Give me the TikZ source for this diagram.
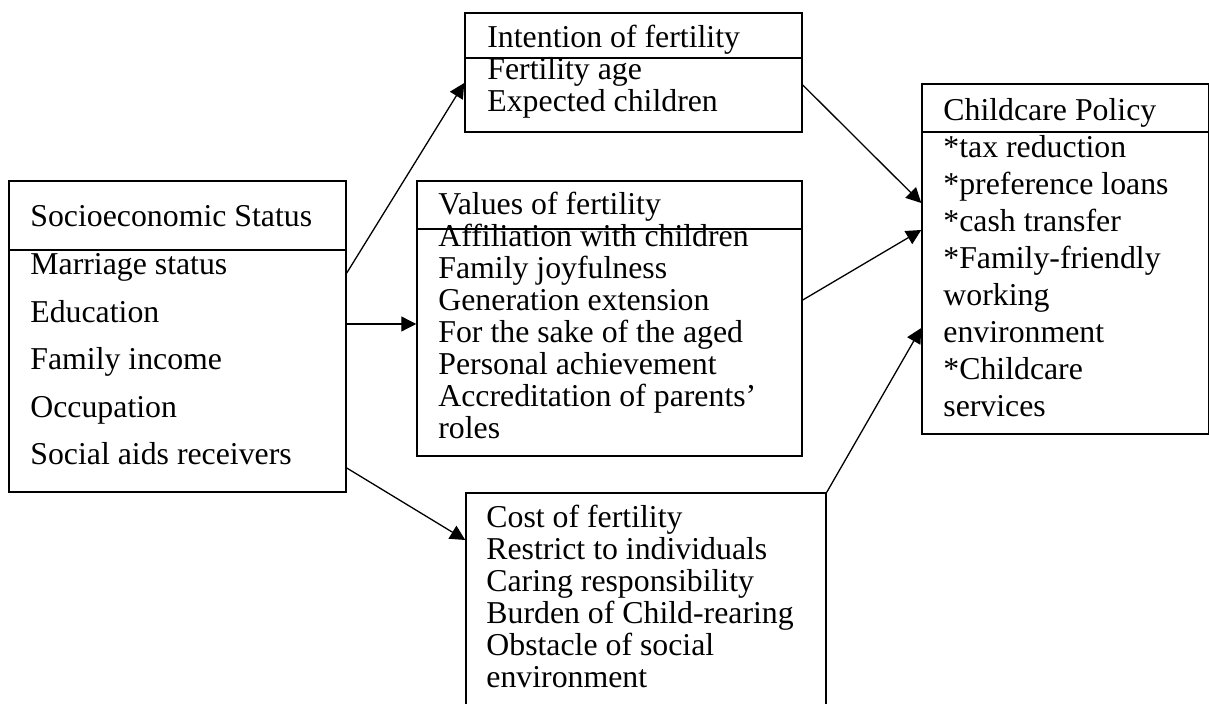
\documentclass[tikz,border=0pt]{standalone}
\usepackage{fontspec}
\setmainfont{Liberation Serif}
\usetikzlibrary{arrows.meta,fit}

\tikzset{
  box/.style={draw, line width=0.75pt, inner sep=0pt},
  rule/.style={line width=0.6pt},
  item/.style={font=\fontsize{15.9}{16}\selectfont, inner sep=0pt, anchor=base west},
  link/.style={line width=0.65pt, -{Triangle[length=7.5pt,width=7.5pt]}},
}

\begin{document}
\begin{tikzpicture}[x=0.5pt,y=-0.5pt]
	\useasboundingbox (0,0) rectangle (1209,704);
	\clip (0,0) rectangle (1209,704);
	
	% Boxes
	\node[box, fit={(9,181) (346,492)}] (ses) {};
	\node[box, fit={(465,13) (802,132)}] (int) {};
	\node[box, fit={(417,181) (802,456)}] (val) {};
	\node[box, fit={(466,493) (826,720)}] (cost) {};
	\node[box, fit={(922,84) (1208.5,434)}] (pol) {};
	
	% Trennlinien unter den Titeln
	\draw[rule] (ses.west |- 0,250) -- (ses.east |- 0,250);
	\draw[rule] (int.west |- 0,58) -- (int.east |- 0,58);
	\draw[rule] (val.west |- 0,229) -- (val.east |- 0,229);
	\draw[rule] (pol.west |- 0,132) -- (pol.east |- 0,132);
	
	% Texte
	\foreach \t [count=\i from 0] in {Socioeconomic Status, Marriage status, Education, Family income, Occupation, Social aids receivers}
		\node[item] (ses-\i) at (30,227+47.6*\i) {\t};
	
	\foreach \t [count=\i from 0] in {Intention of fertility, Fertility age, Expected children}
		\node[item] (int-\i) at (487,48+32*\i) {\t};
	
	\foreach \t [count=\i from 0] in {Values of fertility, Affiliation with children, Family joyfulness, Generation extension, For the sake of the aged, Personal achievement, Accreditation of parents', roles}
		\node[item] (val-\i) at (438,215+31.9*\i) {\t};
	
	\foreach \t [count=\i from 0] in {Cost of fertility, Restrict to individuals, Caring responsibility, Burden of Child-rearing, Obstacle of social, environment}
		\node[item] (cost-\i) at (486,528+31.8*\i) {\t};
	
	\foreach \t [count=\i from 0] in {Childcare Policy, *tax reduction, *preference loans, *cash transfer, *Family-friendly, working, environment, *Childcare, services}
		\node[item] (pol-\i) at (943,121+37*\i) {\t};
	
	% Pfeile
	\draw[link] (ses.east |- 0,273) -- (int.west |- 0,83);
	\draw[link] (ses.east |- 0,324) -- (val.west |- 0,324);
	\draw[link] (ses.east |- 0,468) -- (cost.west |- 0,540);
	\draw[link] (int.east |- 0,85) -- (pol.west |- 0,203);
	\draw[link] (val.east |- 0,300) -- (pol.west |- 0,230);
	\draw[link] (cost.north east) -- (pol.west |- 0,328);
	
\end{tikzpicture}
\end{document}
